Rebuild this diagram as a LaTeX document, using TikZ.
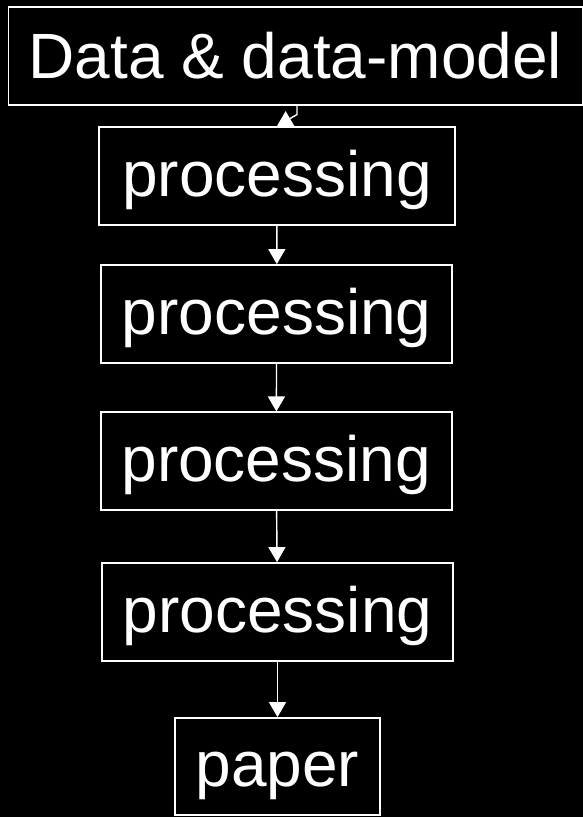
\documentclass[tikz,border=0pt]{standalone}
\usepackage{fontspec}
\setmainfont{Liberation Sans}
\usetikzlibrary{arrows.meta}

\begin{document}
\begin{tikzpicture}[x=1pt, y=-1pt,
        stage/.style={draw=white, line width=1.8pt, text=white, inner sep=0pt,
            minimum height=98pt, font=\fontsize{64}{64}\selectfont,
            text height=40pt, text depth=0pt},
        flow/.style={draw=white, line width=1.4pt, -{Triangle[length=15pt, width=17pt]}}]
        \fill[black] (0,0) rectangle (583,817);
        \useasboundingbox (0,0) rectangle (583,817);

        \node[stage, minimum width=574pt, text height=46pt] (data) at (295.4, 55.6) {Data \& data-model};
        \node[stage, minimum width=356.6pt] (proc1) at (277, 176) {processing};
        \node[stage, minimum width=351.3pt] (proc2) at (276.7, 314) {processing};
        \node[stage, minimum width=351pt, minimum height=97.7pt] (proc3) at (276.2, 461.2) {processing};
        \node[stage, minimum width=351.6pt] (proc4) at (277.5, 612) {processing};
        \node[stage, minimum width=205pt, minimum height=97pt] (paper) at (277.5, 766.5) {paper};

        \draw[flow] ([xshift=1.6pt]data.south) -- ++(0, 9) -- (proc1.north);
        \draw[flow] (proc1) -- (proc2);
        \draw[flow] (proc2) -- (proc3);
        \draw[flow] (proc3) -- (proc4);
        \draw[flow] (proc4) -- (paper);
    \end{tikzpicture}
\end{document}
